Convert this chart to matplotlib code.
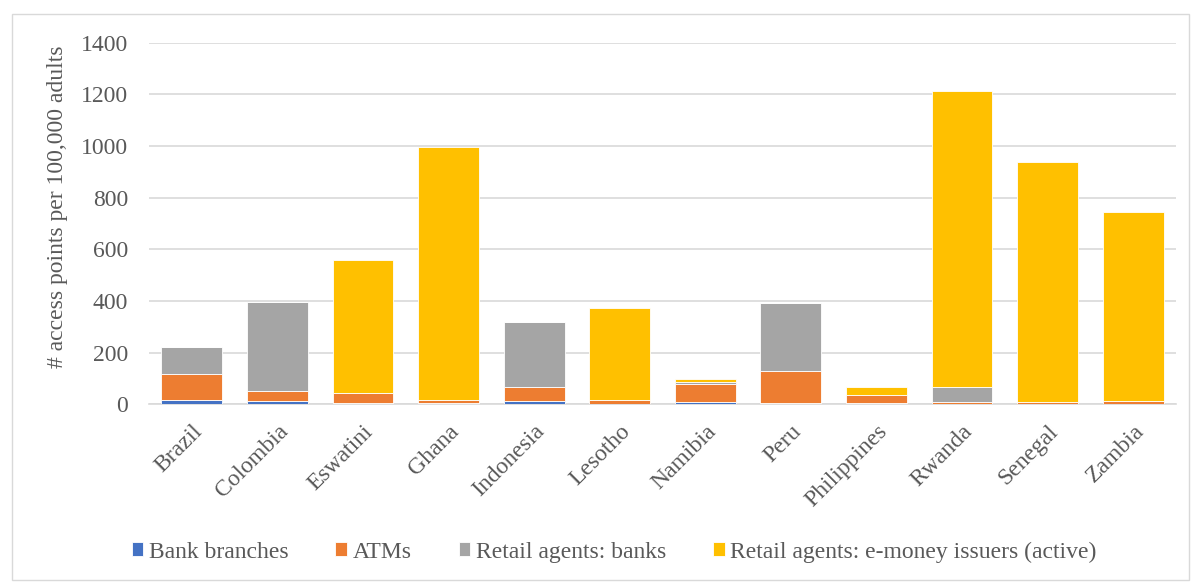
import numpy as np
import matplotlib.pyplot as plt
from matplotlib.patches import Rectangle

countries = ['Brazil', 'Colombia', 'Eswatini', 'Ghana', 'Indonesia', 'Lesotho',
             'Namibia', 'Peru', 'Philippines', 'Rwanda', 'Senegal', 'Zambia']
bank_branches = [18, 13, 4, 5, 13, 3, 9, 4, 6, 1, 2, 3]
atms = [99, 40, 40, 10, 54, 14, 70, 126, 30, 7, 7, 10]
agents_banks = [103, 342, 0, 3, 252, 1, 6, 262, 2, 59, 0, 0]
agents_emoney = [0, 0, 516, 977, 0, 355, 12, 0, 30, 1146, 928, 732]

series = [('Bank branches', bank_branches, '#4472C4'),
          ('ATMs', atms, '#ED7D31'),
          ('Retail agents: banks', agents_banks, '#A5A5A5'),
          ('Retail agents: e-money issuers (active)', agents_emoney, '#FFC000')]

plt.rcParams['font.family'] = ['Liberation Serif', 'DejaVu Serif']

fig = plt.figure(figsize=(11.91, 5.82), dpi=100)
ax = fig.add_axes([0.1251, 0.3053, 0.8623, 0.6213])

x = np.arange(len(countries))
bottom = np.zeros(len(countries))
for name, vals, col in series:
    vals = np.array(vals, dtype=float)
    ax.bar(x, vals, 0.71, bottom=bottom, color=col, label=name,
           edgecolor='white', linewidth=0.6, zorder=3)
    bottom += vals

ax.set_xlim(-0.5, len(countries) - 0.5)
ax.set_ylim(0, 1400)
ax.set_yticks(range(0, 1401, 200))
ax.yaxis.grid(True, color='#D9D9D9', linewidth=1.2, zorder=0)
ax.set_axisbelow(True)
for s in ['top', 'right', 'left']:
    ax.spines[s].set_visible(False)
ax.spines['bottom'].set_color('#D9D9D9')
ax.spines['bottom'].set_linewidth(1.2)
ax.tick_params(axis='both', length=0, labelsize=17, colors='#595959')
ax.tick_params(axis='y', pad=15)
ax.tick_params(axis='x', pad=12)
ax.set_xticks(x)
ax.set_xticklabels(countries, rotation=45, ha='right', rotation_mode='anchor')
ax.set_ylabel('# access points per 100,000 adults', fontsize=17, color='#595959')
ax.yaxis.set_label_coords(-0.079, 0.546)

fig.legend(loc='center', bbox_to_anchor=(0.5156, 0.0515), ncol=4, frameon=False,
           fontsize=17, handlelength=0.5, handleheight=0.55, handletextpad=0.22,
           columnspacing=2.0, labelcolor='#595959')

fig.patches.append(Rectangle((0.010, 0.004), 0.988, 0.972, transform=fig.transFigure,
                             fill=False, edgecolor='#D9D9D9', linewidth=1))

fig.savefig('out.png', dpi=100)
